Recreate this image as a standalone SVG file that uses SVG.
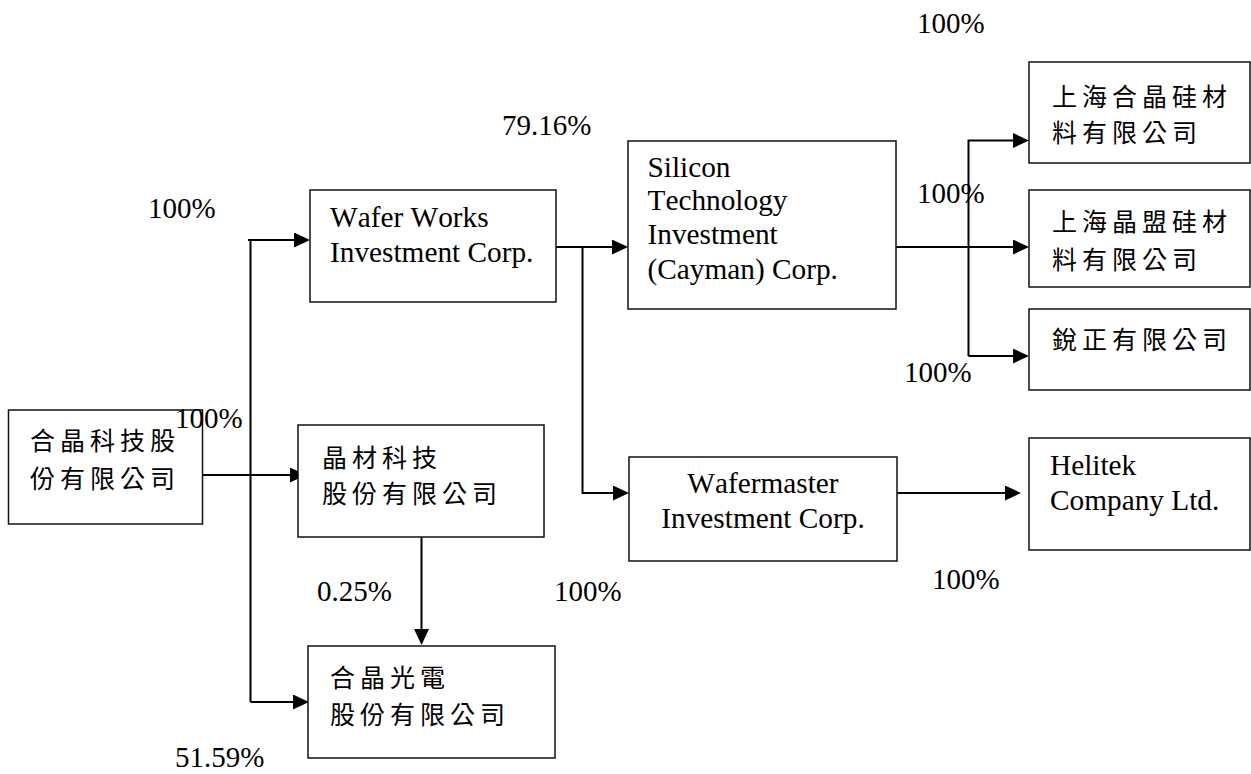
<svg xmlns="http://www.w3.org/2000/svg" width="1251" height="774" viewBox="0 0 1251 774">
<style>
.box{fill:#fff;stroke:#111;stroke-width:1.5}
.en{font-family:"Liberation Serif","Times New Roman",serif;font-size:29.3px;font-kerning:none;fill:#000}
.cjk{font-family:"Noto Sans CJK TC","Noto Sans CJK SC",sans-serif;font-size:25px;letter-spacing:5px;fill:#000}
.ln{fill:none;stroke:#000;stroke-width:2}
.pct{font-family:"Liberation Serif","Times New Roman",serif;font-size:29px;font-kerning:none;fill:#000}
</style>
<defs>
<marker id="ah" viewBox="0 0 16 15" refX="0" refY="7.5" markerWidth="16" markerHeight="15" markerUnits="userSpaceOnUse" orient="auto">
<path d="M0,0 L16,7.5 L0,15 Z" fill="#000"/>
</marker>
</defs>
<rect width="1251" height="774" fill="#fff"/>

<g id="connectors">
<path class="ln" d="M250.5,240 V702"/>
<path class="ln" d="M248,240 H294" marker-end="url(#ah)"/>
<path class="ln" d="M202,475 H290" marker-end="url(#ah)"/>
<path class="ln" d="M250.5,702 H293" marker-end="url(#ah)"/>
<path class="ln" d="M421.5,537 V629" marker-end="url(#ah)"/>
<path class="ln" d="M556,247 H612" marker-end="url(#ah)"/>
<path class="ln" d="M582.5,247 V493 H613" marker-end="url(#ah)"/>
<path class="ln" d="M897,493 H1005" marker-end="url(#ah)"/>
<path class="ln" d="M896,247 H1013" marker-end="url(#ah)"/>
<path class="ln" d="M968.5,356 V140.5 H1013" marker-end="url(#ah)"/>
<path class="ln" d="M968.5,356 H1013" marker-end="url(#ah)"/>
</g>

<g id="n-hejing">
<rect class="box" x="8.5" y="410" width="194" height="114"/>
<text class="cjk" x="30" y="450">合晶科技股</text>
<text class="cjk" x="30" y="488">份有限公司</text>
</g>
<g id="n-waferworks">
<rect class="box" x="310" y="190" width="246" height="112"/>
<text class="en" x="330" y="227">Wafer Works</text>
<text class="en" x="330" y="262">Investment Corp.</text>
</g>
<g id="n-jingcai">
<rect class="box" x="298" y="425" width="246" height="112"/>
<text class="cjk" x="322" y="467">晶材科技</text>
<text class="cjk" x="322" y="503">股份有限公司</text>
</g>
<g id="n-hejingguangdian">
<rect class="box" x="308" y="646" width="247" height="112"/>
<text class="cjk" x="330" y="687">合晶光電</text>
<text class="cjk" x="330" y="724">股份有限公司</text>
</g>
<g id="n-silicon">
<rect class="box" x="628" y="141" width="268" height="168"/>
<text class="en" x="647.5" y="177">Silicon</text>
<text class="en" x="647.5" y="210">Technology</text>
<text class="en" x="647.5" y="244">Investment</text>
<text class="en" x="647.5" y="279">(Cayman) Corp.</text>
</g>
<g id="n-wafermaster">
<rect class="box" x="629" y="457" width="268" height="104"/>
<text class="en" x="763" y="493" text-anchor="middle">Wafermaster</text>
<text class="en" x="763" y="528" text-anchor="middle">Investment Corp.</text>
</g>
<g id="n-shhejing">
<rect class="box" x="1029" y="62" width="221" height="101"/>
<text class="cjk" x="1052" y="106">上海合晶硅材</text>
<text class="cjk" x="1052" y="142">料有限公司</text>
</g>
<g id="n-shjingmeng">
<rect class="box" x="1029" y="190" width="221" height="97"/>
<text class="cjk" x="1052" y="231">上海晶盟硅材</text>
<text class="cjk" x="1052" y="269">料有限公司</text>
</g>
<g id="n-ruizheng">
<rect class="box" x="1029" y="309" width="221" height="81"/>
<text class="cjk" x="1052" y="349">銳正有限公司</text>
</g>
<g id="n-helitek">
<rect class="box" x="1029" y="438" width="221" height="112"/>
<text class="en" x="1050" y="475">Helitek</text>
<text class="en" x="1050" y="510">Company Ltd.</text>
</g>

<g id="labels">
<text class="pct" x="917" y="33">100%</text>
<text class="pct" x="502" y="135">79.16%</text>
<text class="pct" x="148" y="218">100%</text>
<text class="pct" x="917" y="203">100%</text>
<text class="pct" x="904" y="382">100%</text>
<text class="pct" x="175" y="428">100%</text>
<text class="pct" x="317" y="601">0.25%</text>
<text class="pct" x="554" y="601">100%</text>
<text class="pct" x="932" y="589">100%</text>
<text class="pct" x="175" y="767">51.59%</text>
</g>
</svg>
